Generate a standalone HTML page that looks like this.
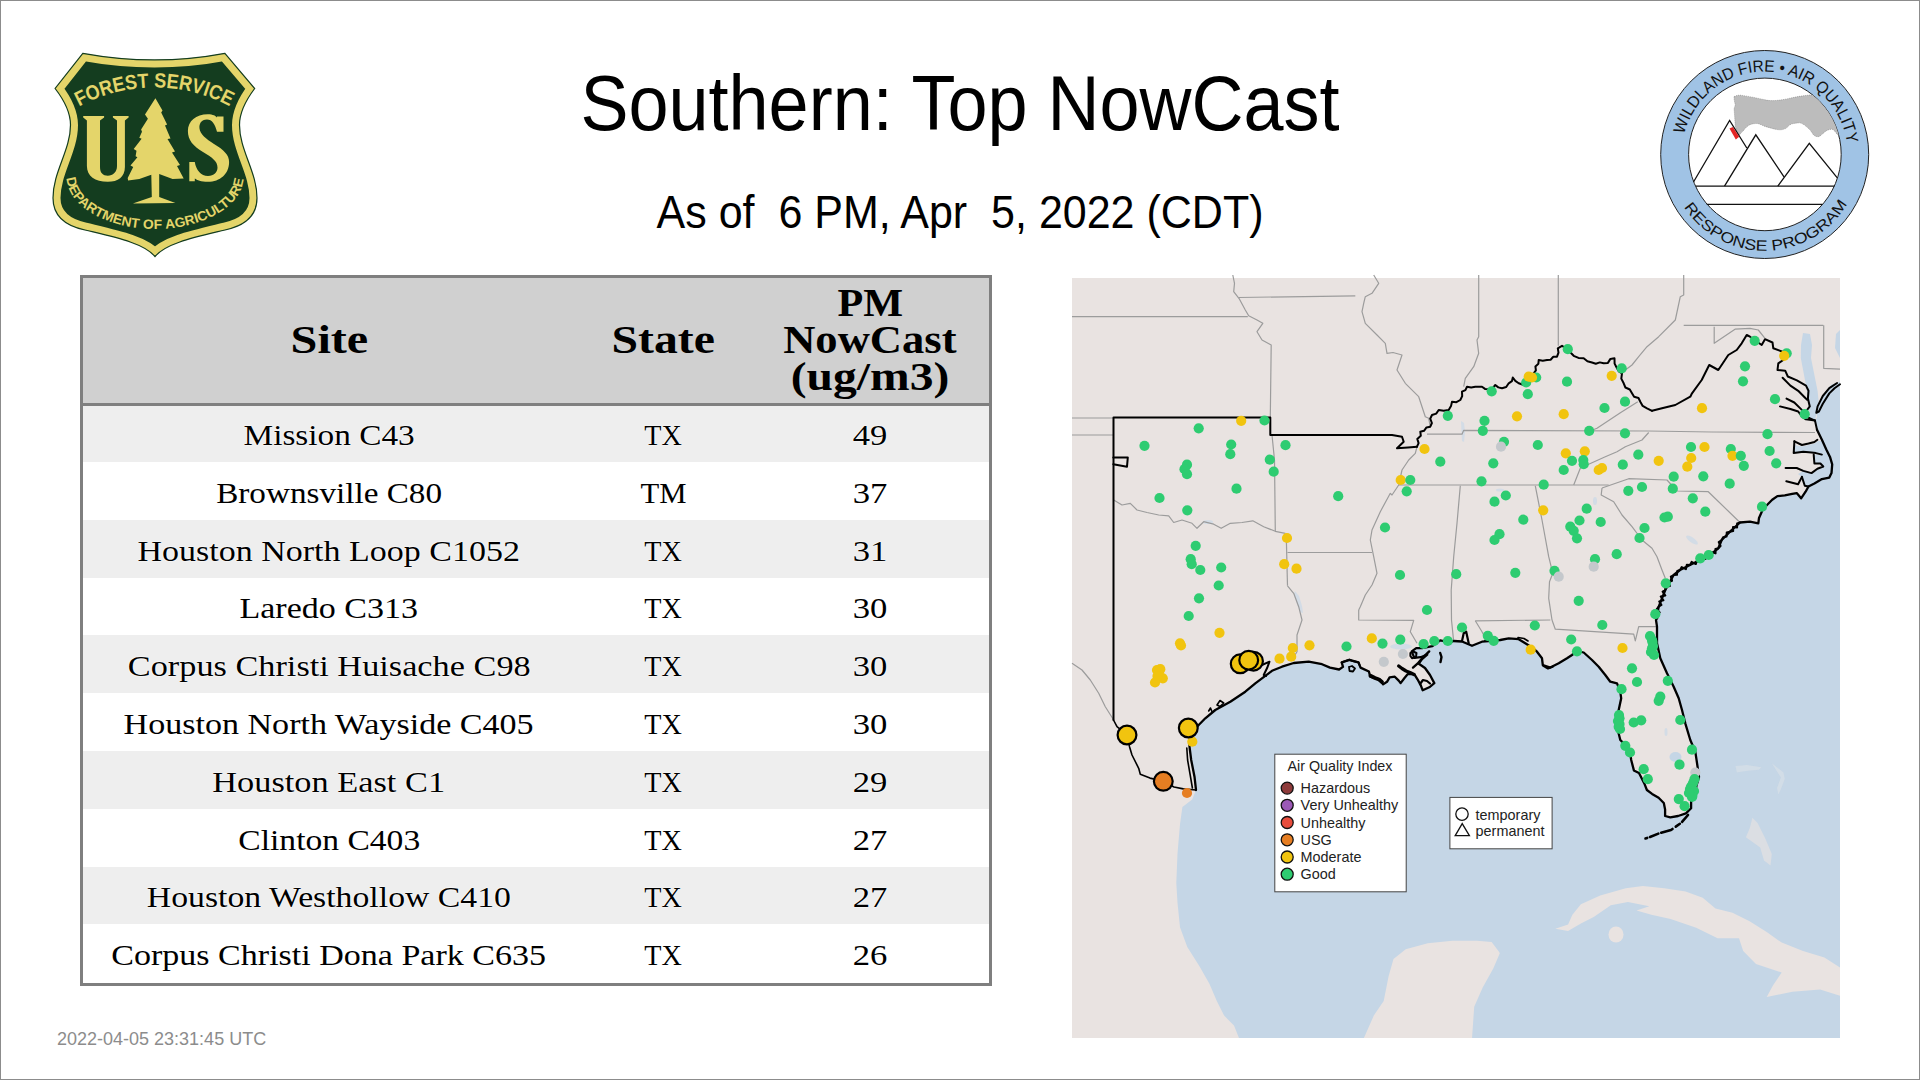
<!DOCTYPE html>
<html><head><meta charset="utf-8"><title>Southern: Top NowCast</title>
<style>
html,body{margin:0;padding:0;background:#fff;}
body{width:1920px;height:1080px;position:relative;overflow:hidden;font-family:"Liberation Sans",sans-serif;}
#frame{position:absolute;left:0;top:0;width:1918px;height:1078px;border:1px solid #8c8c8c;}
.abs{position:absolute;}
#title{position:absolute;left:0;width:1920px;top:65px;transform-origin:50% 65px;transform:scaleY(1.075);text-align:center;font-size:72px;line-height:80px;color:#000;white-space:pre;}
#sub{position:absolute;left:0;width:1920px;top:187.6px;transform-origin:50% 40px;transform:scaleY(1.06);text-align:center;font-size:43px;line-height:50px;color:#000;white-space:pre;}
#foot{position:absolute;left:57px;top:1029px;font-size:18px;line-height:20px;color:#8c8c8c;white-space:pre;}
#tbl{position:absolute;left:80px;top:275px;width:906px;height:705px;border:3px solid #7f7f7f;background:#fff;font-family:"Liberation Serif",serif;}
#thead{position:absolute;left:0;top:0;width:906px;height:125px;background:#d0d0d0;border-bottom:3px solid #7f7f7f;z-index:2;}
.row{position:absolute;left:0;width:906px;height:57.8px;}
.row.g{background:#eeeeee;}
.c{position:absolute;line-height:1;text-align:center;font-size:30px;white-space:pre;color:#000;text-shadow:0 0 1.5px #fff,0 0 1.5px #fff,0 0 1px #fff;}
.h{position:absolute;text-align:center;font-weight:bold;font-size:39px;line-height:1;white-space:pre;color:#000;}

</style></head>
<body>
<div id="frame"></div>
<svg class="abs" style="left:0;top:0" width="320" height="280" viewBox="0 0 320 280"><defs><clipPath id="shc"><path d="M 82.8,53.3 Q 155,66.5 224.9,53.3 L 254.7,88.5 C 246,100 239.5,112 239.5,125 C 239.5,150 257,172 257,198 C 257,216 244,226 225,230 C 196,237 166,243 155,256.5 C 144,243 114,237 85,230 C 66,226 53,216 53,198 C 53,172 70.5,150 70.5,125 C 70.5,112 64,100 55.1,88.5 Z"/></clipPath><path id="fsarc" d="M 79,106.6 A 158.7 158.7 0 0 1 232.2,107.7"/><path id="daarc" d="M 66.5,178 C 68,208 110,229 155,229 C 200,229 242,208 243.5,178"/></defs><path d="M 82.8,53.3 Q 155,66.5 224.9,53.3 L 254.7,88.5 C 246,100 239.5,112 239.5,125 C 239.5,150 257,172 257,198 C 257,216 244,226 225,230 C 196,237 166,243 155,256.5 C 144,243 114,237 85,230 C 66,226 53,216 53,198 C 53,172 70.5,150 70.5,125 C 70.5,112 64,100 55.1,88.5 Z" fill="#143d1f" stroke="#e4d56a" stroke-width="15" clip-path="url(#shc)"/><path d="M 82.8,53.3 Q 155,66.5 224.9,53.3 L 254.7,88.5 C 246,100 239.5,112 239.5,125 C 239.5,150 257,172 257,198 C 257,216 244,226 225,230 C 196,237 166,243 155,256.5 C 144,243 114,237 85,230 C 66,226 53,216 53,198 C 53,172 70.5,150 70.5,125 C 70.5,112 64,100 55.1,88.5 Z" fill="none" stroke="#143d1f" stroke-width="1.2"/><path d="M 83.2,116 L 104.1,116 L 104.1,117.5 L 100,120.6 L 100,167 C 100,173 103,175.7 107.8,175.7 C 113,175.7 117,172 117,166 L 117,120.6 L 112.9,117.5 L 112.9,116 L 128.6,116 L 128.6,117.5 L 124.9,120.6 L 124.9,167 C 124.9,177 118,181.8 107.8,181.8 C 95,181.8 86.9,176 86.9,166 L 86.9,120.6 L 83.2,117.5 Z" fill="#e4d56a"/><path d="M 223.5,116.5 L 223.5,131.8 L 217,131.8 C 215,124 212,119.5 207,119.5 C 201,119.5 199,124 199.5,128.5 C 200,134 206,139 214,144 C 224,150 229.1,155 229.1,162 C 229.1,174 220,181.8 208,181.8 C 201,181.8 197,180 194.8,178.5 L 194.8,181.3 L 189.3,181.3 L 189.3,161.9 L 194.8,161.9 C 196,170 201,176 208,176 C 214,176 217.5,172 217.5,167.5 C 217.5,161 212,157.5 203,152 C 193,146 187.9,140 187.9,131 C 187.9,121 196,114.2 207.8,114.2 C 213,114.2 216,116 217,117.5 L 217,116.5 Z" fill="#e4d56a"/><path d="M 155.4,98.3 L 145.0,114.6 L 147.9,118.8 L 141.1,129.4 L 142.0,131.8 L 139.3,137.8 L 141.6,138.7 L 133.7,148.9 L 136.5,150.7 L 135.6,156.3 L 137.4,157.2 L 130.5,165.6 L 133.2,166.9 L 127.7,178.1 L 128.1,180.4 L 139.3,179.0 L 151.3,174.8 L 151.8,197.0 L 132.8,203.5 L 175.4,203.0 L 159.2,197.0 L 159.2,173.9 L 172.6,179.0 L 183.7,178.5 L 177.0,166.0 L 180.0,165.0 L 172.0,152.6 L 175.0,151.5 L 167.5,139.0 L 170.5,138.5 L 165.0,125.4 L 167.1,124.6 L 161.2,112.5 L 162.5,110.4 Z" fill="#e4d56a"/><text font-family="Liberation Sans" font-size="20.5" font-weight="bold" fill="#e4d56a"><textPath href="#fsarc" textLength="157" lengthAdjust="spacingAndGlyphs">FOREST SERVICE</textPath></text><text font-family="Liberation Sans" font-size="13.4" font-weight="bold" fill="#e4d56a"><textPath href="#daarc" textLength="221" lengthAdjust="spacingAndGlyphs">DEPARTMENT OF AGRICULTURE</textPath></text></svg>
<div id="title">Southern: Top NowCast</div>
<div id="sub">As of  6 PM, Apr  5, 2022 (CDT)</div>
<svg class="abs" style="left:1640px;top:30px" width="260" height="250" viewBox="1640 30 260 250"><defs><clipPath id="wfc"><circle cx="1764.9" cy="154.4" r="76.3"/></clipPath><path id="wftop" d="M 1684.2,134.4 A 83 83 0 0 1 1847.0,143.7"/><path id="wfbot" d="M 1683.9,206.9 A 96.3 96.3 0 0 0 1847.2,204.1"/></defs><circle cx="1764.7" cy="154.5" r="104" fill="#a0c3e5" stroke="#222" stroke-width="1"/><circle cx="1764.9" cy="154.4" r="76.3" fill="#fff" stroke="#222" stroke-width="1"/><g clip-path="url(#wfc)"><path d="M 1734.1,96.6 C 1737,95 1740,95 1742.1,95.4 C 1750,96.5 1758,98.3 1765,99.8 C 1770,101 1776,101 1786.8,98.9 C 1795,97 1803,95.5 1812,94.8 L 1845,94 L 1845,140 L 1837.2,134.4 C 1835,131 1833,129 1831.5,129.2 C 1829,129.5 1828,130 1826.9,130.4 C 1823,133 1820,137 1817.7,136.7 C 1815.5,136.5 1814,135.5 1813.1,134.4 C 1811,131 1809.5,129 1807.4,127.5 C 1804,124.5 1801,122.5 1798.2,122.9 C 1795,123.2 1793,123.5 1791.4,124.1 C 1789,125 1787,128 1785.6,128.6 C 1783,129.6 1781,130 1778.8,129.8 C 1773,129 1769,127.5 1765,126.4 C 1761,125 1759,123.5 1757,123.5 C 1754,123.5 1751,124 1749,125.2 C 1746,127 1744,130 1742.1,132.1 L 1738.6,135.5 C 1736.5,132 1735.5,128 1735.2,125.2 C 1734.8,119 1734.5,114 1734.1,109.2 C 1734.2,107 1735.3,106 1735.2,104.6 C 1734.5,101.5 1733.8,99 1734.1,96.6 Z" fill="#bcbcbc" stroke="#555" stroke-width="0.4" stroke-dasharray="1 1"/></g><g fill="none" stroke="#111" stroke-width="1.3" stroke-linejoin="miter"><path d="M 1693.5,182 L 1729.6,120.5 L 1746.8,148"/><path d="M 1724.5,186.2 L 1755.8,134.8 L 1784,176.8"/><path d="M 1777.8,186.2 L 1809.3,143.3 L 1837.3,177.8"/><path d="M 1695.8,186.2 L 1834.4,186.2"/><path d="M 1706.7,204.4 L 1822.4,204.4"/></g><path d="M 1729.5,128.6 L 1732.9,126.9 L 1739.2,136.7 L 1735.8,139.5 Z" fill="#e32626"/><text font-family="Liberation Sans" font-size="16.5" fill="#111"><textPath href="#wftop" textLength="229" lengthAdjust="spacingAndGlyphs">WILDLAND FIRE • AIR QUALITY</textPath></text><text font-family="Liberation Sans" font-size="15" fill="#111"><textPath href="#wfbot" textLength="195" lengthAdjust="spacingAndGlyphs">RESPONSE PROGRAM</textPath></text></svg>
<div id="tbl">
<div class="row g" style="top:126.2px"></div>
<div class="row" style="top:184.0px"></div>
<div class="row g" style="top:241.8px"></div>
<div class="row" style="top:299.6px"></div>
<div class="row g" style="top:357.4px"></div>
<div class="row" style="top:415.2px"></div>
<div class="row g" style="top:473.0px"></div>
<div class="row" style="top:530.8px"></div>
<div class="row g" style="top:588.6px"></div>
<div class="row" style="top:646.4px"></div>
<div class="c" style="left:0px;width:492px;top:141.9px"><span style="display:inline-block;transform:scaleX(1.110)">Mission C43</span></div>
<div class="c" style="left:492px;width:176px;top:141.9px"><span style="display:inline-block;transform:scaleX(0.938)">TX</span></div>
<div class="c" style="left:668px;width:238px;top:141.9px"><span style="display:inline-block;transform:scaleX(1.154)">49</span></div>
<div class="c" style="left:0px;width:492px;top:199.7px"><span style="display:inline-block;transform:scaleX(1.106)">Brownsville C80</span></div>
<div class="c" style="left:492px;width:176px;top:199.7px"><span style="display:inline-block;transform:scaleX(1.022)">TM</span></div>
<div class="c" style="left:668px;width:238px;top:199.7px"><span style="display:inline-block;transform:scaleX(1.154)">37</span></div>
<div class="c" style="left:0px;width:492px;top:257.5px"><span style="display:inline-block;transform:scaleX(1.133)">Houston North Loop C1052</span></div>
<div class="c" style="left:492px;width:176px;top:257.5px"><span style="display:inline-block;transform:scaleX(0.938)">TX</span></div>
<div class="c" style="left:668px;width:238px;top:257.5px"><span style="display:inline-block;transform:scaleX(1.154)">31</span></div>
<div class="c" style="left:0px;width:492px;top:315.3px"><span style="display:inline-block;transform:scaleX(1.134)">Laredo C313</span></div>
<div class="c" style="left:492px;width:176px;top:315.3px"><span style="display:inline-block;transform:scaleX(0.938)">TX</span></div>
<div class="c" style="left:668px;width:238px;top:315.3px"><span style="display:inline-block;transform:scaleX(1.154)">30</span></div>
<div class="c" style="left:0px;width:492px;top:373.1px"><span style="display:inline-block;transform:scaleX(1.143)">Corpus Christi Huisache C98</span></div>
<div class="c" style="left:492px;width:176px;top:373.1px"><span style="display:inline-block;transform:scaleX(0.938)">TX</span></div>
<div class="c" style="left:668px;width:238px;top:373.1px"><span style="display:inline-block;transform:scaleX(1.154)">30</span></div>
<div class="c" style="left:0px;width:492px;top:430.9px"><span style="display:inline-block;transform:scaleX(1.135)">Houston North Wayside C405</span></div>
<div class="c" style="left:492px;width:176px;top:430.9px"><span style="display:inline-block;transform:scaleX(0.938)">TX</span></div>
<div class="c" style="left:668px;width:238px;top:430.9px"><span style="display:inline-block;transform:scaleX(1.154)">30</span></div>
<div class="c" style="left:0px;width:492px;top:488.7px"><span style="display:inline-block;transform:scaleX(1.145)">Houston East C1</span></div>
<div class="c" style="left:492px;width:176px;top:488.7px"><span style="display:inline-block;transform:scaleX(0.938)">TX</span></div>
<div class="c" style="left:668px;width:238px;top:488.7px"><span style="display:inline-block;transform:scaleX(1.154)">29</span></div>
<div class="c" style="left:0px;width:492px;top:546.5px"><span style="display:inline-block;transform:scaleX(1.119)">Clinton C403</span></div>
<div class="c" style="left:492px;width:176px;top:546.5px"><span style="display:inline-block;transform:scaleX(0.938)">TX</span></div>
<div class="c" style="left:668px;width:238px;top:546.5px"><span style="display:inline-block;transform:scaleX(1.154)">27</span></div>
<div class="c" style="left:0px;width:492px;top:604.3px"><span style="display:inline-block;transform:scaleX(1.125)">Houston Westhollow C410</span></div>
<div class="c" style="left:492px;width:176px;top:604.3px"><span style="display:inline-block;transform:scaleX(0.938)">TX</span></div>
<div class="c" style="left:668px;width:238px;top:604.3px"><span style="display:inline-block;transform:scaleX(1.154)">27</span></div>
<div class="c" style="left:0px;width:492px;top:662.1px"><span style="display:inline-block;transform:scaleX(1.134)">Corpus Christi Dona Park C635</span></div>
<div class="c" style="left:492px;width:176px;top:662.1px"><span style="display:inline-block;transform:scaleX(0.938)">TX</span></div>
<div class="c" style="left:668px;width:238px;top:662.1px"><span style="display:inline-block;transform:scaleX(1.154)">26</span></div>
  <div id="thead">
<div class="h" style="left:0px;width:492px;top:42.3px"><span style="display:inline-block;transform:scaleX(1.236)">Site</span></div>
<div class="h" style="left:492px;width:176px;top:42.3px"><span style="display:inline-block;transform:scaleX(1.224)">State</span></div>
<div class="h" style="left:668px;width:238px;top:5.3px"><span style="display:inline-block;transform:scaleX(1.082)">PM</span></div>
<div class="h" style="left:668px;width:238px;top:42.3px"><span style="display:inline-block;transform:scaleX(1.143)">NowCast</span></div>
<div class="h" style="left:668px;width:238px;top:79.3px"><span style="display:inline-block;transform:scaleX(1.220)">(ug/m3)</span></div>
  </div>
</div>
<svg id="map" width="768" height="766" viewBox="1072 275 768 766" style="position:absolute;left:1072px;top:275px;overflow:visible"><defs><clipPath id="mc"><rect x="1072" y="278" width="768" height="760"/></clipPath></defs><g clip-path="url(#mc)"><rect x="1072" y="278" width="768" height="760" fill="#e9e3e1"/><polygon points="1841.0,381.0 1837.0,383.0 1831.9,384.3 1828.0,388.2 1822.8,396.0 1818.9,403.8 1816.3,411.5 1817.0,416.7 1815.0,421.9 1817.0,429.7 1821.9,439.8 1826.3,449.4 1830.0,456.9 1832.2,464.3 1831.5,473.1 1829.3,477.6 1821.9,479.1 1814.4,483.5 1808.5,486.5 1805.6,491.7 1801.1,498.3 1796.7,493.1 1792.2,493.9 1784.8,495.4 1777.4,496.1 1772.2,499.8 1768.0,504.0 1763.0,509.0 1759.0,518.0 1758.3,523.3 1750.0,521.7 1740.0,522.5 1730.0,531.7 1721.7,540.0 1718.3,548.3 1710.0,555.0 1700.0,560.0 1690.0,565.0 1680.0,570.0 1673.7,575.0 1665.3,590.0 1658.7,606.7 1656.0,620.0 1657.0,626.7 1657.0,643.3 1660.3,658.3 1667.0,673.3 1673.7,686.7 1678.7,698.3 1682.0,710.0 1685.3,723.3 1690.3,740.0 1695.3,751.7 1697.8,768.3 1699.0,776.9 1696.4,786.0 1695.1,793.9 1691.1,801.7 1691.1,808.2 1685.9,813.4 1678.1,816.0 1670.3,817.3 1665.1,816.0 1665.1,809.5 1663.8,803.0 1658.6,797.8 1652.1,793.9 1646.9,790.0 1644.3,783.4 1639.0,773.0 1633.9,770.4 1631.2,760.0 1630.3,753.3 1623.7,743.3 1620.3,740.0 1617.8,730.0 1617.0,718.3 1618.7,710.0 1621.2,698.3 1620.3,691.7 1617.0,683.3 1610.3,681.7 1605.3,675.0 1598.7,666.7 1592.0,660.0 1583.7,652.5 1577.0,650.8 1572.0,655.0 1567.0,658.3 1558.7,663.3 1550.3,667.5 1542.8,665.0 1542.0,658.3 1537.0,651.7 1532.0,647.5 1525.3,643.3 1518.7,639.2 1508.7,638.3 1500.3,640.0 1492.0,640.8 1482.0,641.7 1472.0,645.8 1462.0,641.5 1453.7,641.0 1449.9,642.5 1440.2,640.4 1432.4,646.2 1422.0,648.1 1416.2,648.1 1411.7,651.4 1414.3,657.9 1420.7,657.2 1427.2,654.6 1422.0,659.2 1418.8,663.7 1425.0,668.0 1430.0,675.0 1434.3,683.1 1429.8,687.0 1422.7,690.3 1420.7,685.1 1417.5,679.3 1414.3,674.1 1407.8,674.1 1404.5,678.0 1400.6,683.1 1398.7,680.6 1394.8,676.7 1389.6,677.3 1387.0,681.8 1383.1,684.4 1379.3,679.3 1370.2,676.7 1368.9,671.5 1360.5,667.6 1358.5,662.4 1349.4,659.8 1341.7,662.4 1343.0,666.9 1339.1,669.5 1330.0,667.6 1322.0,664.2 1308.7,661.7 1293.7,663.0 1282.0,666.7 1272.0,670.8 1265.3,675.8 1255.3,683.3 1245.3,691.7 1230.3,701.7 1215.3,710.0 1205.3,718.3 1198.7,725.0 1190.5,734.0 1189.5,741.7 1189.5,746.7 1191.2,760.0 1194.5,776.7 1196.0,790.0 1192.2,799.6 1182.4,807.0 1180.0,824.2 1177.5,853.6 1176.3,883.1 1177.5,902.7 1180.0,927.2 1187.3,946.9 1199.6,966.5 1209.4,983.7 1216.8,1000.9 1224.1,1015.6 1234.0,1025.4 1238.9,1037.7 1239.0,1039.0 1364.0,1039.0 1364.0,1037.7 1373.8,1015.6 1383.7,1000.9 1388.6,976.3 1393.5,959.1 1405.7,949.3 1427.8,943.2 1452.4,940.7 1476.9,940.7 1491.6,942.0 1499.0,951.8 1499.8,953.3 1493.4,968.2 1482.7,987.4 1474.2,1006.7 1472.0,1038.7 1472.0,1039.0 1841.0,1039.0" fill="#c5d6e6"/><polygon points="1803.0,333.0 1810.0,334.0 1812.0,345.0 1811.0,358.0 1815.0,378.0 1817.6,391.0 1818.9,404.0 1816.3,414.0 1815.0,420.6 1810.0,418.0 1808.5,404.0 1807.0,391.0 1804.6,378.0 1800.8,358.0 1801.0,345.0" fill="#c5d6e6"/><polygon points="1836.0,334.0 1840.0,330.0 1840.0,358.0 1835.0,348.0" fill="#c5d6e6"/><polygon points="1813.7,454.6 1822.0,454.6 1826.3,449.4 1830.0,456.9 1832.2,464.3 1831.5,473.1 1829.3,477.6 1821.9,479.1 1814.4,483.5 1808.0,486.5 1804.8,485.7 1801.9,476.9 1798.0,474.0 1803.3,470.9 1811.5,473.1 1817.4,468.7 1823.3,466.5 1820.4,463.5 1814.4,463.5" fill="#c5d6e6"/><polygon points="1794.4,445.0 1801.9,446.5 1808.5,445.0 1814.4,443.5 1818.0,441.0 1821.9,441.0 1826.3,449.4 1822.0,454.6 1815.9,453.1 1811.5,452.4 1803.3,451.7 1794.0,453.0" fill="#c5d6e6"/><polygon points="1555.3,928.7 1568.1,924.5 1572.4,914.8 1580.9,904.2 1600.2,895.6 1625.8,888.2 1642.9,886.0 1664.2,888.2 1685.6,891.4 1702.7,897.8 1715.5,908.4 1732.5,912.7 1749.6,921.2 1766.7,931.9 1781.7,942.6 1803.0,951.1 1824.4,957.5 1841.0,968.2 1841.0,996.0 1820.1,989.6 1792.3,991.7 1766.7,997.1 1773.1,985.3 1781.7,972.5 1756.0,964.0 1743.2,951.1 1739.0,938.3 1717.6,938.3 1696.2,927.7 1670.6,919.1 1651.4,914.8 1636.5,910.6 1649.3,906.3 1627.9,902.0 1610.8,905.2 1593.7,917.0 1580.9,923.4 1568.1,930.9" fill="#e9e3e1"/><ellipse cx="1616" cy="934.5" rx="7.5" ry="8" fill="#e9e3e1"/><polygon points="1752.4,817.7 1757.6,822.9 1765.3,838.4 1771.8,854.0 1770.5,865.6 1764.0,860.5 1760.2,847.5 1745.9,837.2 1749.8,828.1" fill="#e9e3e1" opacity="0.6"/><polygon points="1735.5,765.9 1747.0,765.0 1761.5,767.2 1758.9,769.8 1746.0,771.0 1736.8,772.4" fill="#dfe3e8" opacity="0.5"/><polygon points="1771.8,763.3 1783.5,772.4 1784.8,778.9 1780.9,789.2 1778.3,794.4 1777.0,787.9 1780.9,777.6" fill="#dfe3e8" opacity="0.5"/><ellipse cx="1675.5" cy="757" rx="6" ry="5" fill="#c5d6e6"/><ellipse cx="1401" cy="646.5" rx="11" ry="3" fill="#cfdbe6" opacity="0.85"/><polygon points="1294.8,591 1299,596 1302,606 1303,613 1300,612 1297,604 1294,595" fill="#cfdbe6" opacity="0.85"/><polygon points="1461,421 1464,423 1465,432 1464,442 1462,441 1461.5,432" fill="#cfdbe6" opacity="0.85"/><ellipse cx="1208" cy="522" rx="5" ry="2" fill="#cfdbe6" opacity="0.85"/><ellipse cx="1692" cy="540" rx="7" ry="2.5" transform="rotate(35 1692 540)" fill="#cfdbe6" opacity="0.85"/><ellipse cx="1500" cy="490" rx="4" ry="1.5" fill="#cfdbe6" opacity="0.85"/><ellipse cx="1595" cy="501" rx="2" ry="4" fill="#cfdbe6" opacity="0.85"/><ellipse cx="1666" cy="732" rx="1.5" ry="4" fill="#cfdbe6" opacity="0.85"/><ellipse cx="1662" cy="700" rx="2" ry="3" fill="#cfdbe6" opacity="0.85"/></g><g fill="none" stroke="#9c9c9c" stroke-width="1.2" stroke-linejoin="round"><polyline points="1072.0,316.7 1247.8,316.7"/><polyline points="1232.8,275.0 1234.5,283.3 1233.7,291.7 1239.5,299.2 1245.3,310.0 1248.7,315.8 1257.0,320.0 1262.8,323.3 1257.0,331.7 1262.0,340.0 1271.2,345.0 1270.3,417.5"/><polyline points="1238.7,297.5 1355.3,295.8"/><polyline points="1373.7,275.0 1378.7,283.3 1372.0,293.3 1365.3,296.7 1363.7,303.3 1362.0,311.7 1365.3,323.3 1377.0,335.0 1385.3,343.3 1387.0,353.3 1393.0,352.5 1402.0,355.0 1397.0,370.0 1405.3,383.3 1418.7,396.7 1425.3,416.7 1428.7,418.3 1430.3,426.7"/><polyline points="1072.0,418.0 1113.0,418.0"/><polyline points="1072.0,435.0 1113.0,435.0"/><polyline points="1478.7,275.0 1478.7,336.7 1477.0,340.0 1478.7,353.3 1473.7,366.7 1465.3,378.3 1463.7,386.7"/><polyline points="1558.3,275.0 1558.3,345.8"/><polyline points="1683.7,275.0 1683.7,295.0 1680.3,296.7 1675.3,320.0 1658.7,336.7 1647.0,346.7 1638.7,356.7 1632.0,365.0 1625.3,370.0 1622.0,373.3"/><polyline points="1683.7,325.3 1823.3,325.3"/><polyline points="1823.7,325.3 1823.7,368.3 1840.0,369.2"/><polyline points="1714.2,326.7 1714.2,343.3 1735.0,329.2 1750.0,328.3 1758.3,330.0 1765.0,338.3"/><polyline points="1427.0,434.2 1462.0,434.2 1463.7,430.3 1648.0,431.0 1712.0,432.0 1815.0,432.5"/><polyline points="1637.8,401.7 1620.0,413.0 1597.0,428.3 1590.0,431.0"/><polyline points="1648.7,432.5 1642.0,440.0 1625.3,446.7 1617.0,451.7 1605.3,456.7 1587.0,465.0 1580.3,468.3 1573.7,485.0"/><polyline points="1398.7,485.0 1608.7,485.0"/><polyline points="1602.0,488.0 1628.7,478.7 1667.0,480.0 1677.0,491.0 1708.3,491.7 1740.0,522.5"/><polyline points="1602.0,488.0 1601.2,495.0 1613.7,501.7 1622.0,515.0 1632.0,526.7 1642.0,540.0 1652.0,548.3 1657.0,556.7 1662.0,570.0 1665.3,578.3"/><polyline points="1460.3,485.8 1457.0,523.3 1453.7,556.7 1451.2,590.0 1451.5,620.0 1453.7,641.7"/><polyline points="1535.3,485.8 1542.0,520.0 1548.7,556.7 1552.8,573.3 1549.5,581.7 1548.7,598.3 1552.0,620.0"/><polyline points="1475.3,620.8 1550.3,620.0"/><polyline points="1475.3,620.8 1482.0,631.7 1485.3,638.3"/><polyline points="1552.0,620.0 1555.3,629.2 1633.7,634.2 1635.3,640.8 1638.7,626.7 1650.3,626.7 1657.0,626.7"/><polyline points="1358.7,610.0 1358.7,620.0 1413.7,620.3 1410.3,631.7 1417.0,643.3"/><polyline points="1417.0,446.7 1415.3,453.3 1408.7,460.0 1402.0,470.0 1398.7,485.0 1392.0,495.0 1390.3,493.3 1380.3,511.7 1372.0,530.0 1370.3,540.0 1373.7,556.7 1377.0,573.3 1372.0,585.0 1365.3,595.0 1360.3,606.7 1358.7,610.0"/><polyline points="1113.7,500.0 1122.0,505.0 1130.3,503.3 1137.0,510.0 1147.0,512.5 1158.7,515.0 1168.7,515.8 1173.7,522.5 1182.0,520.0 1192.0,523.3 1197.0,528.3 1203.7,521.7 1213.7,524.2 1221.2,528.3 1230.3,523.3 1242.0,522.5 1252.8,520.8 1263.7,526.7 1275.3,531.3 1285.3,533.3"/><polyline points="1272.0,435.0 1274.5,460.0 1275.3,531.3"/><polyline points="1286.2,533.3 1287.5,585.8"/><polyline points="1287.5,552.5 1372.0,552.5"/><polyline points="1287.5,585.8 1293.7,593.3 1298.7,606.7 1302.0,620.0 1297.0,635.0 1297.0,651.7 1292.0,660.0"/><polyline points="1072.0,663.3 1082.0,670.0 1090.3,680.0 1098.7,693.3 1105.3,706.7 1113.7,720.0"/></g><g fill="none" stroke="#000" stroke-width="2" stroke-linejoin="round" stroke-linecap="round"><polyline points="1113.5,720.0 1113.5,417.5 1270.3,417.5 1270.3,435.0 1392.0,435.0 1402.0,436.7 1403.7,441.7 1397.0,448.3 1408.0,447.5 1417.0,446.7"/><polyline points="1417.0,446.7 1418.6,443.1 1417.3,438.9 1420.8,435.7 1420.3,431.7 1424.0,430.8 1426.5,427.4 1430.3,426.7 1431.9,423.0 1430.2,418.7 1432.0,415.0 1436.2,413.6 1438.7,410.0 1443.7,410.7 1448.7,410.0 1451.0,406.1 1452.0,401.7 1456.4,402.2 1460.3,400.0 1462.2,396.1 1462.0,391.7 1465.4,390.1 1467.0,386.7 1471.2,387.4 1475.3,386.7 1482.0,386.7 1485.0,388.9 1488.7,389.2 1492.7,388.2 1495.3,385.0 1498.3,387.4 1502.0,388.3 1506.2,387.0 1508.7,383.3 1511.9,381.2 1512.8,377.5 1515.3,380.9 1518.7,383.3 1523.7,385.0 1526.7,382.5 1527.8,378.4 1532.3,377.2 1533.7,373.3 1535.9,370.3 1535.4,366.4 1538.4,363.7 1538.7,360.0 1542.8,360.7 1547.0,360.0 1550.6,359.7 1553.3,356.8 1557.0,356.7 1558.5,352.6 1557.8,348.3 1562.0,345.8 1565.0,347.9 1568.7,348.3 1570.5,352.5 1573.7,355.8 1578.5,357.9 1583.7,358.3 1587.4,361.3 1592.0,362.5 1595.8,363.7 1599.8,362.4 1603.7,363.3 1607.9,362.9 1610.4,358.9 1614.5,358.3 1614.6,363.6 1617.0,368.3 1618.9,371.4 1622.0,373.3 1621.3,378.6 1623.7,383.3 1625.4,387.5 1629.8,389.5 1632.0,393.3 1634.1,396.8 1638.5,398.0 1640.3,401.7 1642.7,405.9 1647.0,408.3 1652.0,410.8"/><polyline points="1652.0,410.8 1662.0,408.3 1675.3,405.0 1690.3,396.7 1692.0,393.3 1701.7,380.0 1709.2,365.0 1718.3,370.0 1728.3,355.0 1736.7,350.0 1741.7,343.3 1746.7,335.0 1750.0,336.7 1761.7,345.0 1765.0,339.2 1772.5,342.5 1773.3,348.3 1782.5,351.7 1783.3,360.0 1778.3,363.3 1777.5,370.0 1785.2,370.7 1787.8,376.5 1796.9,380.4 1806.0,385.6 1808.5,390.8 1807.9,398.6 1809.8,406.4 1805.9,411.5 1804.6,414.1 1809.0,418.0 1815.0,420.6"/><polyline points="1740.0,522.5 1737.1,523.4 1737.1,527.4 1733.0,527.0 1733.2,531.1 1730.0,531.7 1726.7,532.5 1726.6,536.6 1723.1,537.2 1721.7,540.0 1718.7,542.0 1720.6,546.0 1718.3,548.3 1715.4,549.0 1715.6,553.4 1711.1,552.1 1710.0,555.0 1706.6,554.4 1705.7,558.9 1701.7,557.2 1700.0,560.0 1697.0,560.2 1695.8,564.1 1691.6,561.9 1690.0,565.0 1686.8,564.8 1685.9,569.2 1681.7,567.1 1680.0,570.0 1677.3,570.9 1677.0,574.8 1673.7,575.0 1670.8,576.7 1672.1,580.7 1668.6,582.0 1669.9,586.0 1665.3,586.7 1665.3,590.0 1662.6,591.7 1665.4,595.5 1660.7,596.5 1663.5,600.3 1659.2,601.4 1661.5,605.0 1658.7,606.7 1656.7,609.1 1659.7,612.4 1655.0,614.3 1657.6,617.6 1656.0,620.0" stroke-width="2"/><polyline points="1815.0,420.6 1817.0,429.7"/><polyline points="1688.0,815.0 1681.0,823.0 1671.0,830.0 1660.0,833.0 1650.0,837.0 1645.5,838.5" stroke-width="2.6" stroke-dasharray="9 3 5 4 12 3"/><polyline points="1341.7,662.4 1349.4,659.8 1352.7,661.1 1358.5,662.4 1359.5,665.0" stroke-width="2.0"/><polyline points="1349.0,667.0 1352.0,666.0 1355.0,668.5 1353.0,671.5 1349.5,671.0 1349.0,667.0" stroke-width="1.8"/><polyline points="1370.5,675.8 1375.0,678.0 1379.0,679.5 1382.0,682.0" stroke-width="3.8"/><polyline points="1398.7,666.0 1402.0,668.5 1406.0,671.0 1410.0,672.5 1414.0,674.5" stroke-width="3.4"/><polyline points="1413.0,667.6 1417.5,663.7 1422.0,658.5 1425.9,654.6 1429.2,651.4" stroke-width="2.4"/><polyline points="1410.4,653.0 1413.0,651.5 1416.5,653.0 1416.0,657.0 1412.0,658.3 1410.4,656.0 1410.4,653.0" stroke-width="2.0"/><polyline points="1440.2,653.0 1441.5,657.0 1440.5,662.0" stroke-width="2.4"/><polyline points="1420.0,684.0 1423.0,680.0 1427.0,681.0 1430.0,683.5" stroke-width="2.2"/><polyline points="1262.0,665.0 1269.5,661.7 1267.0,668.3 1263.7,675.0 1266.0,676.0" stroke-width="2.0"/><polyline points="1217.0,705.0 1220.0,700.5 1223.7,703.0 1220.0,706.5 1217.0,705.0" stroke-width="1.6"/><polyline points="1208.7,711.0 1210.5,708.0 1212.0,711.7" stroke-width="1.6"/><polyline points="1462.0,641.0 1463.7,633.3 1466.2,631.7 1468.7,643.3" stroke-width="2.2"/><polyline points="1485.0,640.5 1490.0,638.8 1497.0,639.5" stroke-width="1.6"/><polyline points="1518.0,637.5 1524.0,638.5 1528.0,641.0" stroke-width="1.6"/><polyline points="1543.0,665.5 1548.0,668.5 1553.0,666.5" stroke-width="2.2"/><polyline points="1186.8,748.0 1187.6,760.0 1190.2,775.0 1192.4,788.0" stroke-width="1.6"/><polyline points="1817.0,429.7 1821.9,439.8 1826.3,449.4 1830.0,456.9 1832.2,464.3 1831.5,473.1 1829.3,477.6 1821.9,479.1 1814.4,483.5 1808.5,486.5 1805.6,491.7 1801.1,498.3 1796.7,493.1 1792.2,493.9 1784.8,495.4 1777.4,496.1 1772.2,499.8 1768.0,504.0 1763.0,509.0 1759.0,518.0 1758.3,523.3 1750.0,521.7 1740.0,522.5 1730.0,531.7 1721.7,540.0 1718.3,548.3 1710.0,555.0 1700.0,560.0 1690.0,565.0 1680.0,570.0 1673.7,575.0 1665.3,590.0 1658.7,606.7 1656.0,620.0 1657.0,626.7 1657.0,643.3 1660.3,658.3 1667.0,673.3 1673.7,686.7 1678.7,698.3 1682.0,710.0 1685.3,723.3 1690.3,740.0 1695.3,751.7 1697.8,768.3 1699.0,776.9 1696.4,786.0 1695.1,793.9 1691.1,801.7 1691.1,808.2 1685.9,813.4 1678.1,816.0 1670.3,817.3 1665.1,816.0 1665.1,809.5 1663.8,803.0 1658.6,797.8 1652.1,793.9 1646.9,790.0 1644.3,783.4 1639.0,773.0 1633.9,770.4 1631.2,760.0 1630.3,753.3 1623.7,743.3 1620.3,740.0 1617.8,730.0 1617.0,718.3 1618.7,710.0 1621.2,698.3 1620.3,691.7 1617.0,683.3 1610.3,681.7 1605.3,675.0 1598.7,666.7 1592.0,660.0 1583.7,652.5 1577.0,650.8 1572.0,655.0 1567.0,658.3 1558.7,663.3 1550.3,667.5 1542.8,665.0 1542.0,658.3 1537.0,651.7 1532.0,647.5 1525.3,643.3 1518.7,639.2 1508.7,638.3 1500.3,640.0 1492.0,640.8 1482.0,641.7 1472.0,645.8 1462.0,641.5 1453.7,641.0 1449.9,642.5 1440.2,640.4 1432.4,646.2 1422.0,648.1 1416.2,648.1 1411.7,651.4 1414.3,657.9 1420.7,657.2 1427.2,654.6 1422.0,659.2 1418.8,663.7 1425.0,668.0 1430.0,675.0 1434.3,683.1 1429.8,687.0 1422.7,690.3 1420.7,685.1 1417.5,679.3 1414.3,674.1 1407.8,674.1 1404.5,678.0 1400.6,683.1 1398.7,680.6 1394.8,676.7 1389.6,677.3 1387.0,681.8 1383.1,684.4 1379.3,679.3 1370.2,676.7 1368.9,671.5 1360.5,667.6 1358.5,662.4 1349.4,659.8 1341.7,662.4 1343.0,666.9 1339.1,669.5 1330.0,667.6 1322.0,664.2 1308.7,661.7 1293.7,663.0 1282.0,666.7 1272.0,670.8 1265.3,675.8 1255.3,683.3 1245.3,691.7 1230.3,701.7 1215.3,710.0 1205.3,718.3 1198.7,725.0 1190.5,734.0 1189.5,741.7 1189.5,746.7 1191.2,760.0 1194.5,776.7 1196.0,790.0" stroke-width="2.3"/><polyline points="1196.0,790.0 1183.3,788.9 1174.0,787.0 1163.3,781.3 1150.0,778.1 1140.3,774.2 1138.7,768.3 1132.0,755.0 1129.5,746.7 1127.0,735.0 1117.0,726.7 1113.5,720.0" stroke-width="1.6"/><polyline points="1113.3,457.5 1127.8,457.5 1127.0,466.7 1113.3,464.2"/><polyline points="1782.6,377.8 1790.4,385.6 1798.2,390.8 1804.6,397.3 1807.2,399.9"/><polyline points="1786.5,398.6 1794.3,402.5 1800.8,408.9 1805.9,414.1"/><polyline points="1780.0,406.4 1790.4,409.0 1798.2,411.5 1802.0,416.7 1805.9,419.3 1815.0,420.6"/><polyline points="1840.0,384.3 1834.5,388.2 1829.3,393.4 1822.8,403.8 1818.9,411.5 1816.3,412.8 1817.6,406.4 1822.8,396.0 1829.3,388.2 1837.1,383.0"/><polyline points="1794.4,441.3 1801.9,445.0 1808.5,443.5 1814.4,442.0 1817.4,439.8"/><polyline points="1794.4,441.3 1793.7,453.1 1803.3,451.7 1811.5,452.4 1815.9,453.1 1821.9,454.6"/><polyline points="1813.7,454.6 1814.4,463.5 1820.4,463.5 1823.3,466.5 1817.4,468.7 1811.5,473.1 1803.3,470.9 1796.7,468.0 1785.6,468.0"/><polyline points="1801.9,476.9 1798.1,484.3 1786.3,481.3"/><polyline points="1801.9,476.9 1804.8,485.7 1808.5,486.5"/></g><circle cx="1241.2" cy="420.8" r="5.1" fill="#f1c40f"/><circle cx="1264.5" cy="420.5" r="5.1" fill="#2ecc71"/><circle cx="1198.7" cy="428.3" r="5.1" fill="#2ecc71"/><circle cx="1144.5" cy="445.8" r="5.1" fill="#2ecc71"/><circle cx="1231.2" cy="444.5" r="5.1" fill="#2ecc71"/><circle cx="1285.5" cy="445.2" r="5.1" fill="#2ecc71"/><circle cx="1230.3" cy="454.2" r="5.1" fill="#2ecc71"/><circle cx="1269.8" cy="459.7" r="5.1" fill="#2ecc71"/><circle cx="1273.7" cy="471.7" r="5.1" fill="#2ecc71"/><circle cx="1187" cy="464.7" r="5.1" fill="#2ecc71"/><circle cx="1184.5" cy="469.2" r="5.1" fill="#2ecc71"/><circle cx="1187" cy="474.2" r="5.1" fill="#2ecc71"/><circle cx="1236.5" cy="488.7" r="5.1" fill="#2ecc71"/><circle cx="1159.5" cy="498" r="5.1" fill="#2ecc71"/><circle cx="1187.3" cy="510.3" r="5.1" fill="#2ecc71"/><circle cx="1338.2" cy="496.2" r="5.1" fill="#2ecc71"/><circle cx="1385" cy="527.5" r="5.1" fill="#2ecc71"/><circle cx="1287" cy="538" r="5.1" fill="#f1c40f"/><circle cx="1195.7" cy="545.8" r="5.1" fill="#2ecc71"/><circle cx="1190.7" cy="559.2" r="5.1" fill="#2ecc71"/><circle cx="1191.7" cy="564.2" r="5.1" fill="#2ecc71"/><circle cx="1200.3" cy="570" r="5.1" fill="#2ecc71"/><circle cx="1221.2" cy="567.5" r="5.1" fill="#2ecc71"/><circle cx="1284.2" cy="564.2" r="5.1" fill="#f1c40f"/><circle cx="1296.5" cy="568.7" r="5.1" fill="#f1c40f"/><circle cx="1218.7" cy="585.5" r="5.1" fill="#2ecc71"/><circle cx="1199" cy="598.3" r="5.1" fill="#2ecc71"/><circle cx="1188.7" cy="616" r="5.1" fill="#2ecc71"/><circle cx="1447.8" cy="415.8" r="5.1" fill="#2ecc71"/><circle cx="1491.7" cy="391.3" r="5.1" fill="#2ecc71"/><circle cx="1526.2" cy="382.5" r="5.1" fill="#2ecc71"/><circle cx="1536.2" cy="377.5" r="5.1" fill="#2ecc71"/><circle cx="1528.7" cy="376.7" r="5.1" fill="#f1c40f"/><circle cx="1532" cy="377.5" r="5.1" fill="#f1c40f"/><circle cx="1527.8" cy="394.2" r="5.1" fill="#2ecc71"/><circle cx="1567.8" cy="349.2" r="5.1" fill="#2ecc71"/><circle cx="1567" cy="381.7" r="5.1" fill="#2ecc71"/><circle cx="1611.7" cy="375.8" r="5.1" fill="#f1c40f"/><circle cx="1621.7" cy="368.3" r="5.1" fill="#2ecc71"/><circle cx="1625" cy="401.7" r="5.1" fill="#2ecc71"/><circle cx="1604.5" cy="408" r="5.1" fill="#2ecc71"/><circle cx="1517" cy="416.3" r="5.1" fill="#f1c40f"/><circle cx="1563.7" cy="414.2" r="5.1" fill="#f1c40f"/><circle cx="1484.5" cy="420.8" r="5.1" fill="#2ecc71"/><circle cx="1482.8" cy="430.8" r="5.1" fill="#2ecc71"/><circle cx="1589.2" cy="430.8" r="5.1" fill="#2ecc71"/><circle cx="1625" cy="433.3" r="5.1" fill="#2ecc71"/><circle cx="1504" cy="441.8" r="5.1" fill="#2ecc71"/><circle cx="1537.8" cy="445" r="5.1" fill="#2ecc71"/><circle cx="1702" cy="408.2" r="5.1" fill="#f1c40f"/><circle cx="1424.5" cy="449" r="5.1" fill="#f1c40f"/><circle cx="1691" cy="447" r="5.1" fill="#2ecc71"/><circle cx="1704.5" cy="447" r="5.1" fill="#f1c40f"/><circle cx="1754.7" cy="340.8" r="5.1" fill="#2ecc71"/><circle cx="1786.7" cy="353.3" r="5.1" fill="#2ecc71"/><circle cx="1784.2" cy="355.8" r="5.1" fill="#f1c40f"/><circle cx="1745" cy="366.3" r="5.1" fill="#2ecc71"/><circle cx="1743" cy="381.3" r="5.1" fill="#2ecc71"/><circle cx="1775" cy="399.2" r="5.1" fill="#2ecc71"/><circle cx="1804.7" cy="414.2" r="5.1" fill="#2ecc71"/><circle cx="1767.5" cy="434.2" r="5.1" fill="#2ecc71"/><circle cx="1730.8" cy="449" r="5.1" fill="#2ecc71"/><circle cx="1769.6" cy="451" r="5.1" fill="#2ecc71"/><circle cx="1440.3" cy="461.7" r="5.1" fill="#2ecc71"/><circle cx="1493.3" cy="463.3" r="5.1" fill="#2ecc71"/><circle cx="1565.8" cy="453.3" r="5.1" fill="#f1c40f"/><circle cx="1584.8" cy="451.3" r="5.1" fill="#f1c40f"/><circle cx="1572" cy="460.8" r="5.1" fill="#2ecc71"/><circle cx="1583.3" cy="460" r="5.1" fill="#2ecc71"/><circle cx="1583.7" cy="464.2" r="5.1" fill="#2ecc71"/><circle cx="1563.7" cy="470" r="5.1" fill="#2ecc71"/><circle cx="1598.7" cy="470" r="5.1" fill="#f1c40f"/><circle cx="1602" cy="468" r="5.1" fill="#f1c40f"/><circle cx="1622.8" cy="464.7" r="5.1" fill="#2ecc71"/><circle cx="1638.3" cy="454.7" r="5.1" fill="#2ecc71"/><circle cx="1658.7" cy="460.8" r="5.1" fill="#f1c40f"/><circle cx="1691.2" cy="458" r="5.1" fill="#f1c40f"/><circle cx="1687.3" cy="466.7" r="5.1" fill="#f1c40f"/><circle cx="1673.7" cy="476.7" r="5.1" fill="#2ecc71"/><circle cx="1703.3" cy="476.3" r="5.1" fill="#2ecc71"/><circle cx="1672.8" cy="488.7" r="5.1" fill="#2ecc71"/><circle cx="1642" cy="487" r="5.1" fill="#2ecc71"/><circle cx="1628.3" cy="490.8" r="5.1" fill="#2ecc71"/><circle cx="1692.8" cy="498.3" r="5.1" fill="#2ecc71"/><circle cx="1705.3" cy="511.7" r="5.1" fill="#2ecc71"/><circle cx="1667.8" cy="516.7" r="5.1" fill="#2ecc71"/><circle cx="1664.5" cy="517.5" r="5.1" fill="#2ecc71"/><circle cx="1644.5" cy="528" r="5.1" fill="#2ecc71"/><circle cx="1639.5" cy="538" r="5.1" fill="#2ecc71"/><circle cx="1586.7" cy="508.7" r="5.1" fill="#2ecc71"/><circle cx="1579.5" cy="520.5" r="5.1" fill="#2ecc71"/><circle cx="1600.7" cy="522" r="5.1" fill="#2ecc71"/><circle cx="1570.3" cy="526.7" r="5.1" fill="#2ecc71"/><circle cx="1573.7" cy="530.8" r="5.1" fill="#2ecc71"/><circle cx="1577" cy="538.3" r="5.1" fill="#2ecc71"/><circle cx="1543.2" cy="510.3" r="5.1" fill="#f1c40f"/><circle cx="1523.3" cy="519.7" r="5.1" fill="#2ecc71"/><circle cx="1505.8" cy="495.5" r="5.1" fill="#2ecc71"/><circle cx="1494.5" cy="501.7" r="5.1" fill="#2ecc71"/><circle cx="1481.5" cy="481.3" r="5.1" fill="#2ecc71"/><circle cx="1543.7" cy="484.7" r="5.1" fill="#2ecc71"/><circle cx="1400.7" cy="480" r="5.1" fill="#f1c40f"/><circle cx="1410.3" cy="480" r="5.1" fill="#2ecc71"/><circle cx="1406.7" cy="491.3" r="5.1" fill="#2ecc71"/><circle cx="1499.5" cy="534.2" r="5.1" fill="#2ecc71"/><circle cx="1494.5" cy="540" r="5.1" fill="#2ecc71"/><circle cx="1616.7" cy="554.2" r="5.1" fill="#2ecc71"/><circle cx="1595" cy="559.2" r="5.1" fill="#2ecc71"/><circle cx="1593.7" cy="566.7" r="5.1" fill="#c4c8cc"/><circle cx="1554.5" cy="570.8" r="5.1" fill="#2ecc71"/><circle cx="1515.3" cy="572.8" r="5.1" fill="#2ecc71"/><circle cx="1456.2" cy="574.2" r="5.1" fill="#2ecc71"/><circle cx="1400" cy="575" r="5.1" fill="#2ecc71"/><circle cx="1665.8" cy="583.3" r="5.1" fill="#2ecc71"/><circle cx="1578.7" cy="600.8" r="5.1" fill="#2ecc71"/><circle cx="1427" cy="610" r="5.1" fill="#2ecc71"/><circle cx="1655.3" cy="614.2" r="5.1" fill="#2ecc71"/><circle cx="1700.3" cy="558.3" r="5.1" fill="#2ecc71"/><circle cx="1708.7" cy="555" r="5.1" fill="#2ecc71"/><circle cx="1501" cy="446.7" r="5.1" fill="#c4c8cc"/><circle cx="1558.7" cy="576.7" r="5.1" fill="#c4c8cc"/><circle cx="1732.5" cy="455.8" r="5.1" fill="#f1c40f"/><circle cx="1740.8" cy="455.8" r="5.1" fill="#2ecc71"/><circle cx="1743.8" cy="465.8" r="5.1" fill="#2ecc71"/><circle cx="1729.7" cy="483.7" r="5.1" fill="#2ecc71"/><circle cx="1776.2" cy="463.3" r="5.1" fill="#2ecc71"/><circle cx="1762" cy="506.7" r="5.1" fill="#2ecc71"/><circle cx="1219.5" cy="632.8" r="5.1" fill="#f1c40f"/><circle cx="1180" cy="643.3" r="5.1" fill="#f1c40f"/><circle cx="1157" cy="670" r="5.1" fill="#f1c40f"/><circle cx="1160.3" cy="669.2" r="5.1" fill="#f1c40f"/><circle cx="1162.8" cy="678.3" r="5.1" fill="#f1c40f"/><circle cx="1155" cy="682.5" r="5.1" fill="#f1c40f"/><circle cx="1292.8" cy="648" r="5.1" fill="#f1c40f"/><circle cx="1291.2" cy="656.7" r="5.1" fill="#f1c40f"/><circle cx="1279.5" cy="658.7" r="5.1" fill="#f1c40f"/><circle cx="1309.5" cy="645.3" r="5.1" fill="#f1c40f"/><circle cx="1346.5" cy="646.5" r="5.1" fill="#2ecc71"/><circle cx="1371.8" cy="638.4" r="5.1" fill="#f1c40f"/><circle cx="1382.5" cy="643.6" r="5.1" fill="#2ecc71"/><circle cx="1383.8" cy="661.8" r="5.1" fill="#c4c8cc"/><circle cx="1192.3" cy="741.7" r="5.1" fill="#f1c40f"/><circle cx="1187" cy="793" r="5.1" fill="#e67e22"/><circle cx="1400.3" cy="639.7" r="5.1" fill="#2ecc71"/><circle cx="1402.9" cy="654" r="5.1" fill="#c4c8cc"/><circle cx="1423.6" cy="644" r="5.1" fill="#2ecc71"/><circle cx="1434.3" cy="641" r="5.1" fill="#2ecc71"/><circle cx="1447.8" cy="641" r="5.1" fill="#2ecc71"/><circle cx="1462" cy="627.5" r="5.1" fill="#2ecc71"/><circle cx="1487.8" cy="635.8" r="5.1" fill="#2ecc71"/><circle cx="1493.7" cy="640.8" r="5.1" fill="#2ecc71"/><circle cx="1534.8" cy="625.5" r="5.1" fill="#2ecc71"/><circle cx="1530.7" cy="649.7" r="5.1" fill="#f1c40f"/><circle cx="1571.2" cy="639.5" r="5.1" fill="#2ecc71"/><circle cx="1577" cy="651.3" r="5.1" fill="#2ecc71"/><circle cx="1602.3" cy="625" r="5.1" fill="#2ecc71"/><circle cx="1622.5" cy="648" r="5.1" fill="#f1c40f"/><circle cx="1652" cy="640" r="5.1" fill="#2ecc71"/><circle cx="1652" cy="648.3" r="5.1" fill="#2ecc71"/><circle cx="1632" cy="668.3" r="5.1" fill="#2ecc71"/><circle cx="1637" cy="682" r="5.1" fill="#2ecc71"/><circle cx="1621.5" cy="689.2" r="5.1" fill="#2ecc71"/><circle cx="1667.8" cy="680.8" r="5.1" fill="#2ecc71"/><circle cx="1660.3" cy="696.7" r="5.1" fill="#2ecc71"/><circle cx="1658.7" cy="700.8" r="5.1" fill="#2ecc71"/><circle cx="1619.5" cy="718.3" r="5.1" fill="#2ecc71"/><circle cx="1618.7" cy="726.7" r="5.1" fill="#2ecc71"/><circle cx="1633.7" cy="722.5" r="5.1" fill="#2ecc71"/><circle cx="1641.2" cy="720.3" r="5.1" fill="#2ecc71"/><circle cx="1680.3" cy="720" r="5.1" fill="#2ecc71"/><circle cx="1625.3" cy="745.8" r="5.1" fill="#2ecc71"/><circle cx="1630" cy="752.5" r="5.1" fill="#2ecc71"/><circle cx="1692" cy="749.7" r="5.1" fill="#2ecc71"/><circle cx="1643.7" cy="769.2" r="5.1" fill="#2ecc71"/><circle cx="1679.5" cy="764.7" r="5.1" fill="#2ecc71"/><circle cx="1647.8" cy="779.2" r="5.1" fill="#2ecc71"/><circle cx="1695.3" cy="772.5" r="5.1" fill="#c4c8cc"/><circle cx="1694.5" cy="779.2" r="5.1" fill="#2ecc71"/><circle cx="1691.1" cy="786.7" r="5.1" fill="#2ecc71"/><circle cx="1692.4" cy="795.8" r="5.1" fill="#2ecc71"/><circle cx="1678.8" cy="799.1" r="5.1" fill="#2ecc71"/><circle cx="1684.6" cy="806.2" r="5.1" fill="#2ecc71"/><circle cx="1650" cy="636" r="5.1" fill="#2ecc71"/><circle cx="1652.5" cy="642" r="5.1" fill="#2ecc71"/><circle cx="1651" cy="652" r="5.1" fill="#2ecc71"/><circle cx="1654" cy="655" r="5.1" fill="#2ecc71"/><circle cx="1653" cy="646" r="5.1" fill="#2ecc71"/><circle cx="1619" cy="715" r="5.1" fill="#2ecc71"/><circle cx="1618" cy="721" r="5.1" fill="#2ecc71"/><circle cx="1619.5" cy="724" r="5.1" fill="#2ecc71"/><circle cx="1620" cy="729" r="5.1" fill="#2ecc71"/><circle cx="1693" cy="783" r="5.1" fill="#2ecc71"/><circle cx="1690" cy="789" r="5.1" fill="#2ecc71"/><circle cx="1694" cy="791" r="5.1" fill="#2ecc71"/><circle cx="1692" cy="797" r="5.1" fill="#2ecc71"/><circle cx="1689" cy="793" r="5.1" fill="#2ecc71"/><circle cx="1159" cy="672" r="5.1" fill="#f1c40f"/><circle cx="1157.5" cy="676" r="5.1" fill="#f1c40f"/><circle cx="1181" cy="645.5" r="5.1" fill="#f1c40f"/><circle cx="1127" cy="735" r="9.4" fill="#f1c40f" stroke="#000" stroke-width="2.2"/><circle cx="1188.3" cy="728" r="9.4" fill="#f1c40f" stroke="#000" stroke-width="2.2"/><circle cx="1163.3" cy="781.3" r="9.4" fill="#e67e22" stroke="#000" stroke-width="2.2"/><circle cx="1240.2" cy="663.8" r="9.4" fill="#f1c40f" stroke="#000" stroke-width="2.2"/><circle cx="1253.5" cy="661.2" r="9.4" fill="#f1c40f" stroke="#000" stroke-width="2.2"/><circle cx="1248.7" cy="660.2" r="9.4" fill="#f1c40f" stroke="#000" stroke-width="2.2"/><rect x="1274.8" y="754.2" width="131.4" height="137.6" fill="#fff" stroke="#444" stroke-width="1"/><text x="1340" y="770.5" font-family="Liberation Sans" font-size="14.3" fill="#222" text-anchor="middle">Air Quality Index</text><circle cx="1287.2" cy="788.1" r="6" fill="#8e3b3b" stroke="#111" stroke-width="1.3"/><text x="1300.6" y="793.1" font-family="Liberation Sans" font-size="14.4" fill="#222">Hazardous</text><circle cx="1287.2" cy="805.3" r="6" fill="#9b59b6" stroke="#111" stroke-width="1.3"/><text x="1300.6" y="810.3" font-family="Liberation Sans" font-size="14.4" fill="#222">Very Unhealthy</text><circle cx="1287.2" cy="822.5" r="6" fill="#e74c3c" stroke="#111" stroke-width="1.3"/><text x="1300.6" y="827.5" font-family="Liberation Sans" font-size="14.4" fill="#222">Unhealthy</text><circle cx="1287.2" cy="839.8" r="6" fill="#e67e22" stroke="#111" stroke-width="1.3"/><text x="1300.6" y="844.8" font-family="Liberation Sans" font-size="14.4" fill="#222">USG</text><circle cx="1287.2" cy="857.0" r="6" fill="#f1c40f" stroke="#111" stroke-width="1.3"/><text x="1300.6" y="862.0" font-family="Liberation Sans" font-size="14.4" fill="#222">Moderate</text><circle cx="1287.2" cy="874.2" r="6" fill="#2ecc71" stroke="#111" stroke-width="1.3"/><text x="1300.6" y="879.2" font-family="Liberation Sans" font-size="14.4" fill="#222">Good</text><rect x="1449.9" y="797.4" width="102.2" height="51.4" fill="#fff" stroke="#444" stroke-width="1"/><circle cx="1462" cy="814.1" r="6.2" fill="none" stroke="#111" stroke-width="1.3"/><polygon points="1462.2,823.6 1455.2,835.7 1469.4,835.7" fill="none" stroke="#111" stroke-width="1.3"/><text x="1475.6" y="819.7" font-family="Liberation Sans" font-size="14.4" fill="#222">temporary</text><text x="1475.6" y="836.3" font-family="Liberation Sans" font-size="14.4" fill="#222">permanent</text></svg>
<div id="foot">2022-04-05 23:31:45 UTC</div>
</body></html>
